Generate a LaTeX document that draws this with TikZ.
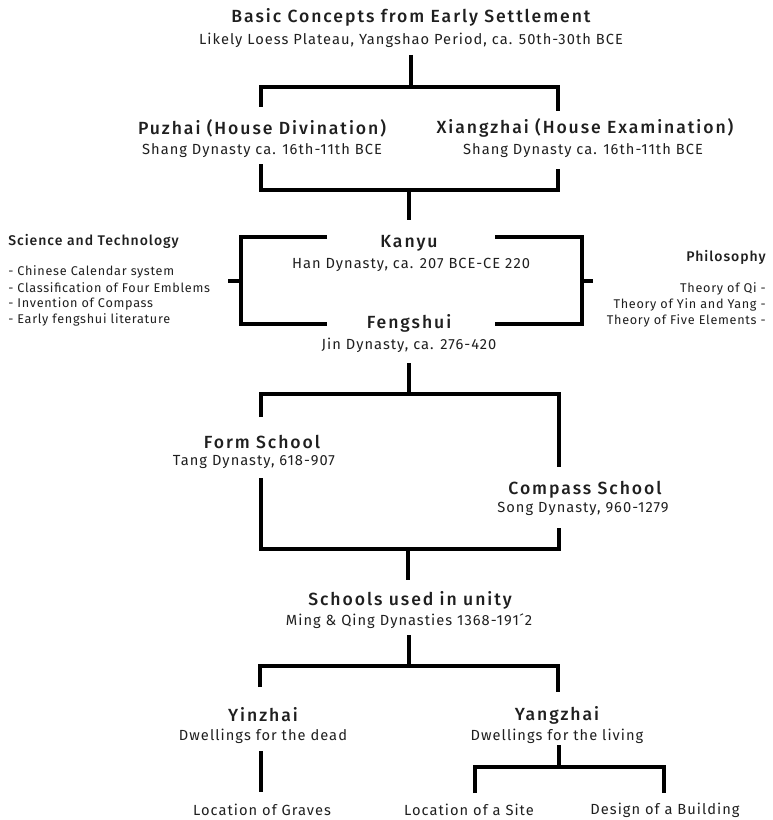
\documentclass[tikz,border=0pt]{standalone}
\usepackage{fontspec}
\setmainfont{Fira Sans}[BoldFont={Fira Sans Medium}]
\begin{document}
\begin{tikzpicture}[x=0.75pt,y=-0.75pt,
  ttl/.style={font=\fontsize{13.2}{14}\selectfont\bfseries\addfontfeature{LetterSpace=11}, inner sep=0pt, text=black!88},
  sub/.style={font=\fontsize{11}{12}\selectfont\addfontfeature{LetterSpace=7}, inner sep=0pt, text=black!88},
  side/.style={font=\fontsize{9.5}{10}\selectfont\addfontfeature{LetterSpace=5.5}, inner sep=0pt, text=black!88},
  sidettl/.style={font=\fontsize{10.5}{11}\selectfont\bfseries\addfontfeature{LetterSpace=7}, inner sep=0pt, text=black!88},
  conn/.style={line width=2.5pt, line join=miter, black}]
\useasboundingbox (0,0) rectangle (773,820);
% nodes
\node[ttl] (t0) at (411,17) {Basic Concepts from Early Settlement};
\node[sub] (s0) at (411,40) {Likely Loess Plateau, Yangshao Period, ca. 50th-30th BCE};
\node[ttl] (t1) at (262,128) {Puzhai (House Divination)};
\node[sub] (s1) at (262,151) {Shang Dynasty ca. 16th-11th BCE};
\node[ttl] (t2) at (585,128) {Xiangzhai (House Examination)};
\node[sub] (s2) at (583,151) {Shang Dynasty ca. 16th-11th BCE};
\node[ttl] (t3) at (409,243) {Kanyu};
\node[sub] (s3) at (411,265) {Han Dynasty, ca. 207 BCE-CE 220};
\node[ttl] (t4) at (409,323) {Fengshui};
\node[sub] (s4) at (409,345) {Jin Dynasty, ca. 276-420};
\node[ttl] (t5) at (262,442) {Form School};
\node[sub] (s5) at (254,462) {Tang Dynasty, 618-907};
\node[ttl] (t6) at (585,490) {Compass School};
\node[sub] (s6) at (583,509) {Song Dynasty, 960-1279};
\node[ttl] (t7) at (410,600) {Schools used in unity};
\node[sub] (s7) at (409,621) {Ming \& Qing Dynasties 1368-191\'{}2};
\node[ttl] (t8) at (263,715) {Yinzhai};
\node[sub] (s8) at (263,736) {Dwellings for the dead};
\node[ttl] (t9) at (557,715) {Yangzhai};
\node[sub] (s9) at (557,736) {Dwellings for the living};
\node[sub] (b1) at (262,810) {Location of Graves};
\node[sub] (b2) at (469,810) {Location of a Site};
\node[sub] (b3) at (665,810) {Design of a Building};
% side notes
\node[sidettl, anchor=west] (st) at (8,241) {Science and Technology};
\node[side, anchor=west] (st1) at (8,272) {- Chinese Calendar system};
\node[side, anchor=west] (st2) at (8,288) {- Classification of Four Emblems};
\node[side, anchor=west] (st3) at (8,304) {- Invention of Compass};
\node[side, anchor=west] (st4) at (8,320) {- Early fengshui literature};
\node[sidettl, anchor=east] (ph) at (766,257) {Philosophy};
\node[side, anchor=east] (ph1) at (766,289) {Theory of Qi -};
\node[side, anchor=east] (ph2) at (766,305) {Theory of Yin and Yang -};
\node[side, anchor=east] (ph3) at (766,321) {Theory of Five Elements -};
% coordinates
\coordinate (a0) at (411,55);  \coordinate (j0) at (411,87);
\coordinate (a1) at (261,107); \coordinate (a2) at (558,111);
\coordinate (c1) at (261,164); \coordinate (c2) at (558,169);
\coordinate (j1) at (409,190); \coordinate (d1) at (409,220);
\coordinate (k1) at (327,237); \coordinate (k2) at (327,324);
\coordinate (kl) at (241,281); \coordinate (kt) at (228,281);
\coordinate (r1) at (495,237); \coordinate (r2) at (495,324);
\coordinate (kr) at (582,281); \coordinate (rt) at (593,281);
\coordinate (e0) at (409,363); \coordinate (j2) at (409,394);
\coordinate (e1) at (261,417); \coordinate (e2) at (559,467);
\coordinate (f1) at (261,478); \coordinate (f2) at (559,528);
\coordinate (j3) at (408,549); \coordinate (f3) at (408,580);
\coordinate (g0) at (409,635); \coordinate (j4) at (409,666);
\coordinate (g1) at (260,687); \coordinate (g2) at (558,692);
\coordinate (h1) at (261,751); \coordinate (h2) at (261,792);
\coordinate (i0) at (559,745); \coordinate (j5) at (559,767);
\coordinate (i1) at (475,793); \coordinate (i2) at (664,793);
% connectors
\draw[conn] (a0) -- (j0);
\draw[conn] (a1) |- (j0) -| (a2);
\draw[conn] (c1) |- (j1) -| (c2);
\draw[conn] (j1) -- (d1);
\draw[conn] (k1) -| (kl) |- (k2);
\draw[conn] (kl) -- (kt);
\draw[conn] (r1) -| (kr) |- (r2);
\draw[conn] (kr) -- (rt);
\draw[conn] (e0) -- (j2);
\draw[conn] (e1) |- (j2) -| (e2);
\draw[conn] (f1) |- (j3) -| (f2);
\draw[conn] (j3) -- (f3);
\draw[conn] (g0) -- (j4);
\draw[conn] (g1) |- (j4) -| (g2);
\draw[conn] (h1) -- (h2);
\draw[conn] (i0) -- (j5);
\draw[conn] (i1) |- (j5) -| (i2);
\end{tikzpicture}
\end{document}
